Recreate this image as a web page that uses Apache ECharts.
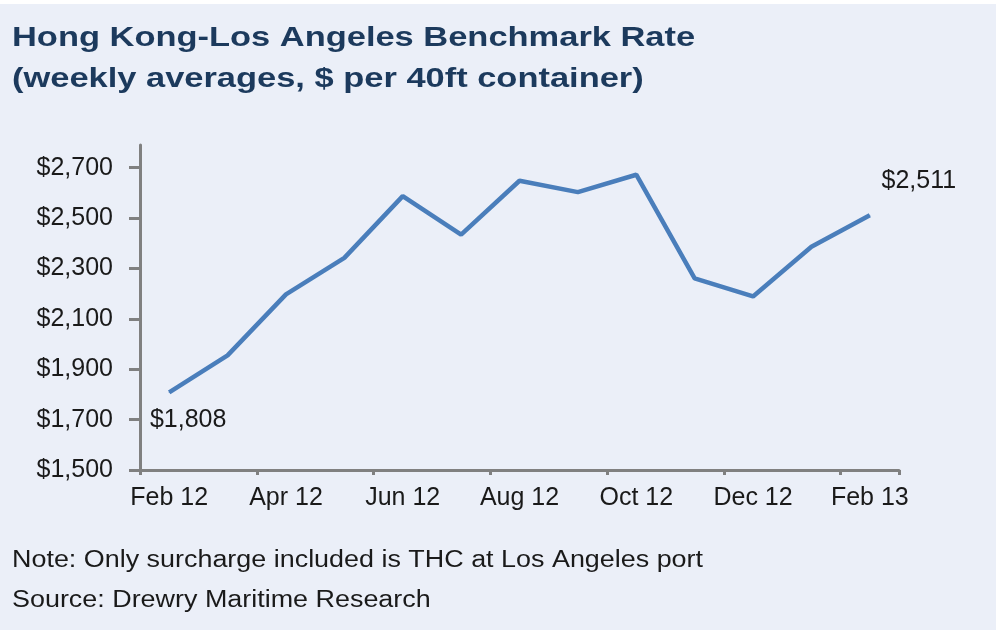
<!DOCTYPE html>
<html>
<head>
<meta charset="utf-8">
<title>Hong Kong-Los Angeles Benchmark Rate</title>
<script src="https://cdn.jsdelivr.net/npm/echarts@6/dist/echarts.min.js"></script>
<style>
  html, body { margin: 0; padding: 0; background: #fff; }
  #main { position: absolute; top: 4px; left: 0; width: 996px; height: 626px; }
</style>
</head>
<body>
<div id="main"></div>
<script>
// monthly weekly-average rates, Feb 12 .. Feb 13
var months = ['Feb 12', 'Mar 12', 'Apr 12', 'May 12', 'Jun 12', 'Jul 12', 'Aug 12',
  'Sep 12', 'Oct 12', 'Nov 12', 'Dec 12', 'Jan 13', 'Feb 13'];
var rates = [1808, 1955, 2197, 2342, 2587, 2434, 2648, 2603, 2672, 2261, 2189, 2386, 2511];
var yTicks = [1500, 1700, 1900, 2100, 2300, 2500, 2700];

var titleLines = ['Hong Kong-Los Angeles Benchmark Rate', '(weekly averages, $ per 40ft container)'];
var noteLines = ['Note: Only surcharge included is THC at Los Angeles port', 'Source: Drewry Maritime Research'];

var FONT = 'Liberation Sans, Arial, sans-serif';

function money(v) {
  return '$' + v.toLocaleString('en-US');
}

// only the first and last points carry a value label
var seriesData = rates.map(function (v, i) {
  var item = { value: v };
  if (i === 0) {
    item.label = { show: true, offset: [19, 28] };
  } else if (i === rates.length - 1) {
    item.label = { show: true, offset: [49, -34] };
  }
  return item;
});

// source text in the original is drawn a bit wide, so stretch it horizontally
function textLine(str, y, size, weight, color, stretch) {
  return {
    type: 'text',
    x: 12,
    y: y,
    scaleX: stretch,
    silent: true,
    style: {
      text: str,
      fontFamily: FONT,
      fontSize: size,
      fontWeight: weight,
      fill: color,
      verticalAlign: 'top'
    }
  };
}

var chart = echarts.init(document.getElementById('main'));
chart.setOption({
  backgroundColor: '#ebeff8',
  animation: false,
  textStyle: { fontFamily: FONT },
  graphic: [
    textLine(titleLines[0], 20, 28, 'bold', '#1c3a5d', 1.23),
    textLine(titleLines[1], 61, 28, 'bold', '#1c3a5d', 1.23),
    textLine(noteLines[0], 545, 23, 'normal', '#1a1a1a', 1.17),
    textLine(noteLines[1], 585, 23, 'normal', '#1a1a1a', 1.17)
  ],
  grid: { left: 140, right: 97, top: 141, bottom: 160, containLabel: false },
  xAxis: {
    type: 'category',
    data: months,
    boundaryGap: true,
    axisLine: { lineStyle: { color: '#808080', width: 3 } },
    axisTick: { show: true, interval: 1, length: 5, lineStyle: { color: '#808080', width: 3 } },
    axisLabel: { interval: 1, color: '#1a1a1a', fontSize: 25, margin: 16 },
    splitLine: { show: false }
  },
  yAxis: {
    type: 'value',
    min: 1500,
    max: 2790,
    axisLine: { show: true, lineStyle: { color: '#808080', width: 3 } },
    axisTick: { show: true, length: 11, customValues: yTicks, lineStyle: { color: '#808080', width: 3 } },
    axisLabel: {
      customValues: yTicks,
      color: '#1a1a1a',
      fontSize: 25,
      margin: 27,
      formatter: function (v) { return money(v); }
    },
    splitLine: { show: false }
  },
  series: [{
    type: 'line',
    data: seriesData,
    symbol: 'circle',
    symbolSize: 1,
    showSymbol: true,
    itemStyle: { color: '#4a7ebb' },
    lineStyle: { color: '#4a7ebb', width: 4.5 },
    label: {
      show: false,
      position: 'inside',
      align: 'center',
      verticalAlign: 'middle',
      color: '#1a1a1a',
      fontSize: 25,
      formatter: function (p) { return money(p.value); }
    }
  }]
});
</script>
</body>
</html>
